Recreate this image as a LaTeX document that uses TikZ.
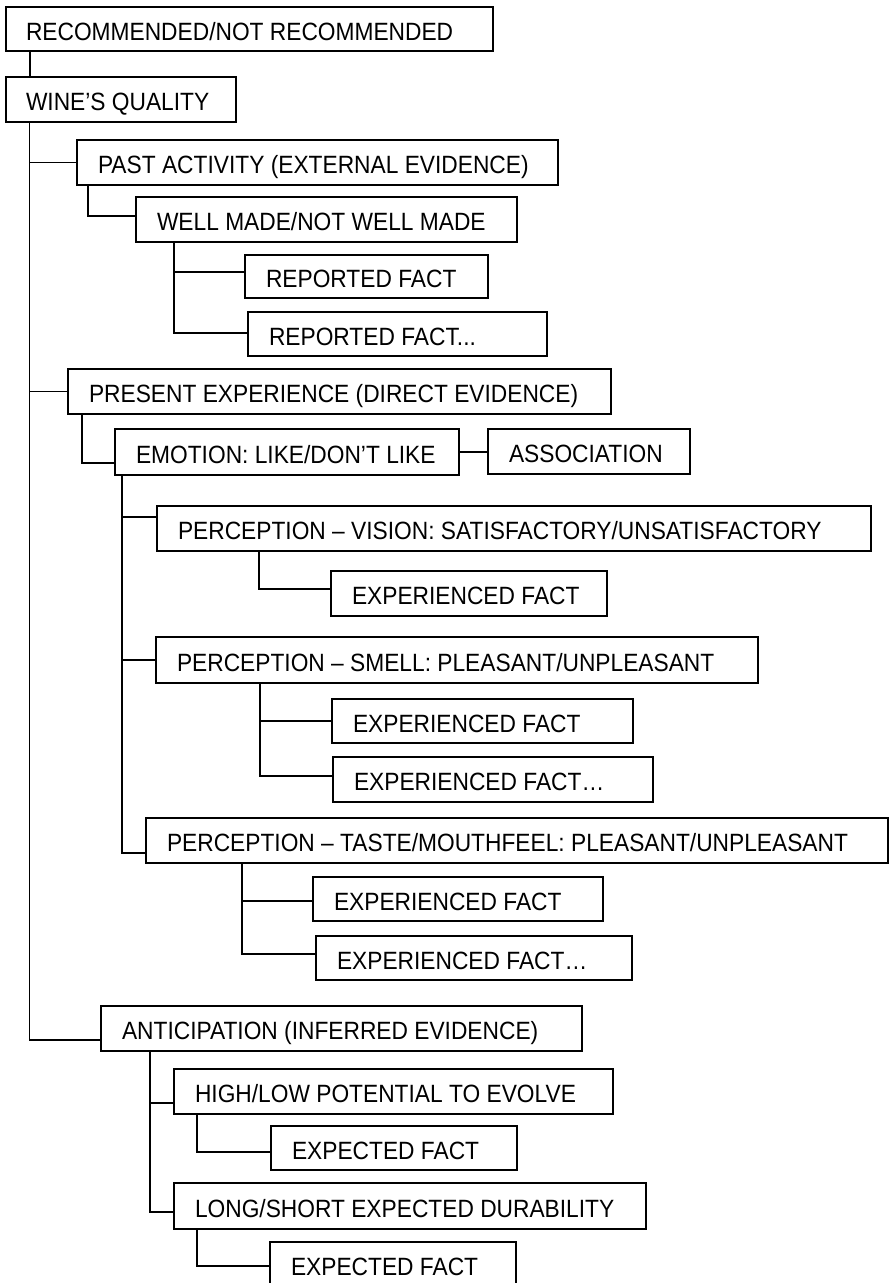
\documentclass[tikz,border=0pt]{standalone}
\usepackage{fontspec}
\setmainfont{Liberation Sans}
\newfontfamily\boxfont[FakeStretch=0.91]{Liberation Sans}
\tikzset{
  wbox/.style={draw, rectangle, line width=1.9pt, anchor=north west,
    inner ysep=0pt, outer sep=0pt, text height=22pt, text depth=0pt,
    font=\boxfont\fontsize{25}{30}\selectfont},
  link/.style={line width=1.9pt}
}
% \boxat[padding]{name}{left}{top}{right}{bottom}{text}
\newcommand{\boxat}[7][21]{%
  \pgfmathsetmacro{\bxw}{#5-#3-2*#1}%
  \pgfmathsetmacro{\bxh}{#6-#4}%
  \node[wbox, inner xsep=#1pt, minimum height=\bxh pt] (#2) at (#3,#4)
    {\makebox[\bxw pt][l]{#7}};}
\begin{document}
\begin{tikzpicture}[x=1pt,y=-1pt]
\useasboundingbox (0,0) rectangle (889,1283);
\clip (0,0) rectangle (889,1283);

% boxes
\boxat[20]{rec}{6}{7}{493}{51}{RECOMMENDED/NOT RECOMMENDED}
\boxat[20]{wine}{6}{77}{236}{122}{WINE’S QUALITY}
\boxat{past}{77}{140}{558}{185}{PAST ACTIVITY (EXTERNAL EVIDENCE)}
\boxat{well}{136}{197}{517}{242}{WELL MADE/NOT WELL MADE}
\boxat{rep1}{245}{255}{488}{298}{REPORTED FACT}
\boxat{rep2}{248}{312}{547}{356}{REPORTED FACT...}
\boxat{present}{68}{369}{611}{414}{PRESENT EXPERIENCE (DIRECT EVIDENCE)}
\boxat{emo}{115}{429}{459}{475}{EMOTION: LIKE/DON’T LIKE}
\boxat{assoc}{488}{429}{690}{474}{ASSOCIATION}
\boxat{vision}{157}{506}{871}{551}{PERCEPTION – VISION: SATISFACTORY/UNSATISFACTORY}
\boxat{vexp}{331}{571}{607}{616}{EXPERIENCED FACT}
\boxat{smell}{156}{637}{758}{683}{PERCEPTION – SMELL: PLEASANT/UNPLEASANT}
\boxat{sexpa}{332}{699}{633}{743}{EXPERIENCED FACT}
\boxat{sexpb}{333}{757}{653}{802}{EXPERIENCED FACT…}
\boxat{taste}{146}{818}{888}{863}{PERCEPTION – TASTE/MOUTHFEEL: PLEASANT/UNPLEASANT}
\boxat{texpa}{313}{877}{603}{921}{EXPERIENCED FACT}
\boxat{texpb}{316}{936}{632}{980}{EXPERIENCED FACT…}
\boxat{antic}{101}{1006}{582}{1051}{ANTICIPATION (INFERRED EVIDENCE)}
\boxat{high}{174}{1069}{613}{1114}{HIGH/LOW POTENTIAL TO EVOLVE}
\boxat{hexp}{271}{1126}{517}{1170}{EXPECTED FACT}
\boxat{long}{174}{1183}{646}{1229}{LONG/SHORT EXPECTED DURABILITY}
\boxat{lexp}{270}{1242}{516}{1287}{EXPECTED FACT}

% connectors
\draw[link] ([xshift=24pt]rec.south west) -- ([xshift=24pt]wine.north west);
\draw[link] ([xshift=23.5pt]wine.south west) |- (past.west);
\draw[link] ([xshift=23.5pt]wine.south west) |- (present.west);
\draw[link] ([xshift=23.5pt]wine.south west) |- ([yshift=-11.5pt]antic.west);

\draw[link] ([xshift=11pt]past.south west) |- ([yshift=3.5pt]well.west);
\draw[link] ([xshift=38pt]well.south west) |- ([yshift=4.5pt]rep1.west);
\draw[link] ([xshift=38pt]well.south west) |- ([yshift=1pt]rep2.west);

\draw[link] ([xshift=14pt]present.south west) |- ([yshift=-11pt]emo.west);
\draw[link] (emo.east) -- (emo.east -| assoc.west);
\draw[link] ([xshift=7pt]emo.south west) |- ([yshift=11.5pt]vision.west);
\draw[link] ([xshift=7pt]emo.south west) |- (smell.west);
\draw[link] ([xshift=7pt]emo.south west) |- ([yshift=-12.5pt]taste.west);

\draw[link] ([xshift=102pt]vision.south west) |- ([yshift=4.5pt]vexp.west);
\draw[link] ([xshift=104pt]smell.south west) |- (sexpa.west);
\draw[link] ([xshift=104pt]smell.south west) |- ([yshift=3.5pt]sexpb.west);
\draw[link] ([xshift=96pt]taste.south west) |- ([yshift=-2pt]texpa.west);
\draw[link] ([xshift=96pt]taste.south west) |- ([yshift=4pt]texpb.west);

\draw[link] ([xshift=49pt]antic.south west) |- ([yshift=-11.5pt]high.west);
\draw[link] ([xshift=49pt]antic.south west) |- ([yshift=-6pt]long.west);
\draw[link] ([xshift=23pt]high.south west) |- ([yshift=-4pt]hexp.west);
\draw[link] ([xshift=23pt]long.south west) |- ([yshift=-1.5pt]lexp.west);
\end{tikzpicture}
\end{document}
